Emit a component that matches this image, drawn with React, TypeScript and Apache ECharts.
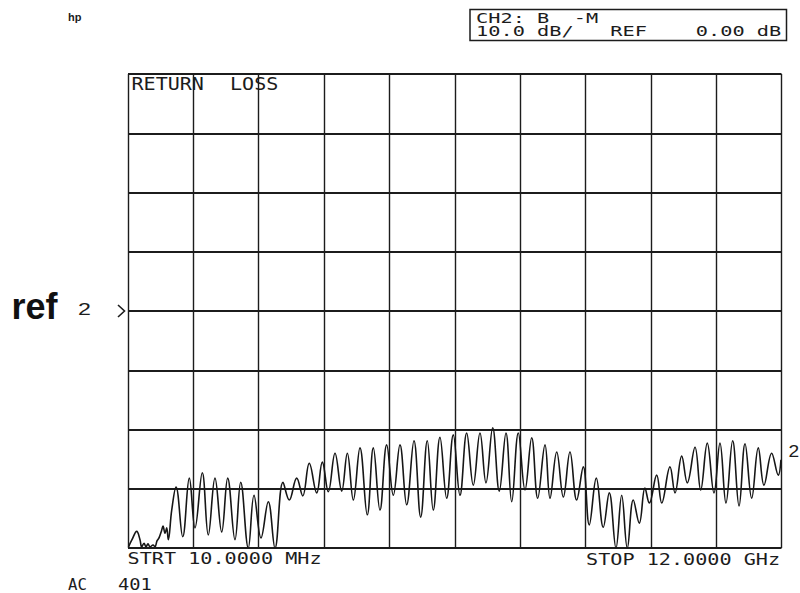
import React, { useEffect, useRef } from "react";
import * as echarts from "echarts";

// Sweep vertices (frequency in GHz, return loss in dB)
const freqGHz = [
  0.019, 0.083, 0.17, 0.23, 0.261, 0.304, 0.34, 0.377, 0.414, 0.469, 0.505, 0.542,
  0.579, 0.628, 0.652, 0.689, 0.72, 0.749, 0.812, 0.891, 1.014, 1.135, 1.239, 1.373,
  1.483, 1.606, 1.729, 1.839, 1.973, 2.078, 2.217, 2.322, 2.45, 2.584, 2.707, 2.854,
  2.969, 3.105, 3.215, 3.336, 3.472, 3.575, 3.685, 3.808, 3.931, 4.034, 4.144, 4.266,
  4.4, 4.511, 4.633, 4.756, 4.878, 5.0, 5.123, 5.257, 5.38, 5.501, 5.611, 5.734,
  5.857, 5.978, 6.101, 6.224, 6.345, 6.468, 6.578, 6.701, 6.822, 6.945, 7.05, 7.171,
  7.294, 7.417, 7.527, 7.661, 7.753, 7.876, 7.997, 8.119, 8.242, 8.363, 8.473, 8.602,
  8.73, 8.84, 8.963, 9.068, 9.171, 9.281, 9.391, 9.495, 9.574, 9.71, 9.802, 9.954,
  10.046, 10.169, 10.271, 10.413, 10.517, 10.638, 10.761, 10.871, 10.981, 11.104,
  11.221, 11.331, 11.453, 11.574, 11.679, 11.82, 11.941, 11.99,
];
const lossDb = [
  -39.8, -38.6, -37.2, -38.6, -39.8, -39.2, -39.8, -39.3, -39.8, -39.5, -39.8, -38.8,
  -38.3, -37.0, -36.3, -37.5, -36.6, -38.6, -33.6, -29.7, -38.1, -28.2, -36.6, -27.3,
  -37.8, -28.2, -37.3, -28.2, -38.6, -28.9, -40.0, -31.1, -38.3, -32.2, -40.0, -28.9,
  -31.9, -28.2, -31.2, -25.7, -30.7, -25.5, -30.5, -24.0, -30.4, -24.0, -31.9, -23.1,
  -34.4, -23.1, -33.6, -22.6, -31.1, -22.6, -32.7, -21.9, -34.8, -21.9, -33.6, -21.3,
  -31.6, -20.9, -31.1, -20.6, -29.4, -20.6, -29.0, -19.7, -30.4, -20.6, -32.2, -20.6,
  -30.2, -21.4, -31.6, -22.6, -31.6, -23.8, -31.4, -23.8, -31.9, -26.3, -36.1, -28.2,
  -36.5, -30.7, -40.0, -31.1, -40.0, -31.9, -35.8, -29.9, -32.4, -27.7, -32.4, -26.3,
  -30.7, -24.5, -29.0, -23.0, -30.2, -22.3, -30.7, -22.3, -32.4, -21.9, -32.9, -22.4,
  -31.6, -23.1, -29.4, -24.0, -27.7, -25.1,
];

// Display scale
const dbMin = -40;
const dbMax = 40;
const dbPerDiv = 10;
const startGHz = 0.01;
const stopGHz = 12;
const xDivisions = 10;

// Annotation texts
const header1 = "CH2: B  -M";
const header2 = "10.0 dB/   REF    0.00 dB";
const titleWords = ["RETURN", "LOSS"];
const startLabel = "STRT 10.0000 MHz";
const stopLabel = "STOP 12.0000 GHz";
const modeLabel = "AC";
const pointsLabel = "401";
const channelMark = "2";

const INK = "#1c1c1c";
const MONO = "'DejaVu Sans Mono', 'Liberation Mono', monospace";

function plotText(x: number, y: number, text: string, size: number, scaleX: number) {
  return {
    type: "text",
    x,
    y,
    scaleX,
    silent: true,
    style: {
      text,
      x: 0,
      y: 0,
      font: `${size}px ${MONO}`,
      fill: INK,
      textAlign: "left",
      textVerticalAlign: "middle",
    },
  };
}

export default function App() {
  const ref = useRef<HTMLDivElement>(null);
  useEffect(() => {
    if (!ref.current) return;
    const chart = echarts.init(ref.current, undefined, { renderer: "svg" });
    const option = {
      animation: false,
      backgroundColor: "#ffffff",
      grid: { left: 128, right: 18.5, top: 74, bottom: 45, show: false },
      xAxis: [
        {
          type: "value",
          min: startGHz,
          max: stopGHz,
          show: false,
        },
        {
          type: "value",
          min: 0,
          max: xDivisions,
          interval: 1,
          axisLine: { show: false },
          axisTick: { show: false },
          axisLabel: { show: false },
          splitLine: { show: true, lineStyle: { color: INK, width: 1.4 } },
        },
      ],
      yAxis: {
        type: "value",
        min: dbMin,
        max: dbMax,
        interval: dbPerDiv,
        axisLine: { show: false },
        axisTick: { show: false },
        axisLabel: { show: false },
        splitLine: { show: true, lineStyle: { color: INK, width: 1.8 } },
      },
      series: [
        {
          type: "line",
          xAxisIndex: 0,
          data: freqGHz.map((f, i) => [f, lossDb[i]]),
          showSymbol: false,
          smooth: 0.4,
          lineStyle: { color: "#161616", width: 1.6 },
        },
      ],
      graphic: [
        {
          type: "rect",
          shape: { x: 470, y: 9.5, width: 316.5, height: 31 },
          style: { fill: "none", stroke: INK, lineWidth: 1.5 },
          silent: true,
        },
        plotText(476, 18.3, header1, 14, 1.45),
        plotText(476, 30.8, header2, 14, 1.45),
        plotText(131.5, 84, titleWords[0], 17, 1.18),
        plotText(230, 84, titleWords[1], 17, 1.18),
        plotText(127.5, 558.5, startLabel, 16, 1.26),
        plotText(586, 559.5, stopLabel, 16, 1.26),
        plotText(68, 585, modeLabel, 15, 1.05),
        plotText(118, 585, pointsLabel, 15, 1.25),
        {
          type: "text",
          x: 68,
          y: 17,
          silent: true,
          style: {
            text: "hp",
            font: "bold 11px 'Liberation Sans', Arial, sans-serif",
            fill: INK,
            textVerticalAlign: "middle",
          },
        },
        {
          type: "text",
          x: 11.5,
          y: 306,
          silent: true,
          style: {
            text: "ref",
            font: "bold 36px 'Liberation Sans', Arial, sans-serif",
            fill: "#111",
            textVerticalAlign: "middle",
          },
        },
        {
          type: "text",
          x: 78,
          y: 309.5,
          scaleX: 1.45,
          silent: true,
          style: {
            text: channelMark,
            font: "16px 'Liberation Sans', Arial, sans-serif",
            fill: INK,
            textVerticalAlign: "middle",
          },
        },
        {
          type: "text",
          x: 788.5,
          y: 451.5,
          scaleX: 1.2,
          silent: true,
          style: {
            text: channelMark,
            font: "16px 'Liberation Sans', Arial, sans-serif",
            fill: INK,
            textVerticalAlign: "middle",
          },
        },
        {
          type: "polyline",
          shape: { points: [[118, 305], [124.5, 311], [118, 317]] },
          style: { stroke: INK, lineWidth: 1.6, fill: "none" },
          silent: true,
        },
      ],
    };
    chart.setOption(option as any);
    return () => chart.dispose();
  }, []);
  return (
    <div
      ref={ref}
      style={{ position: "fixed", left: 0, top: 0, width: 800, height: 593 }}
    />
  );
}
